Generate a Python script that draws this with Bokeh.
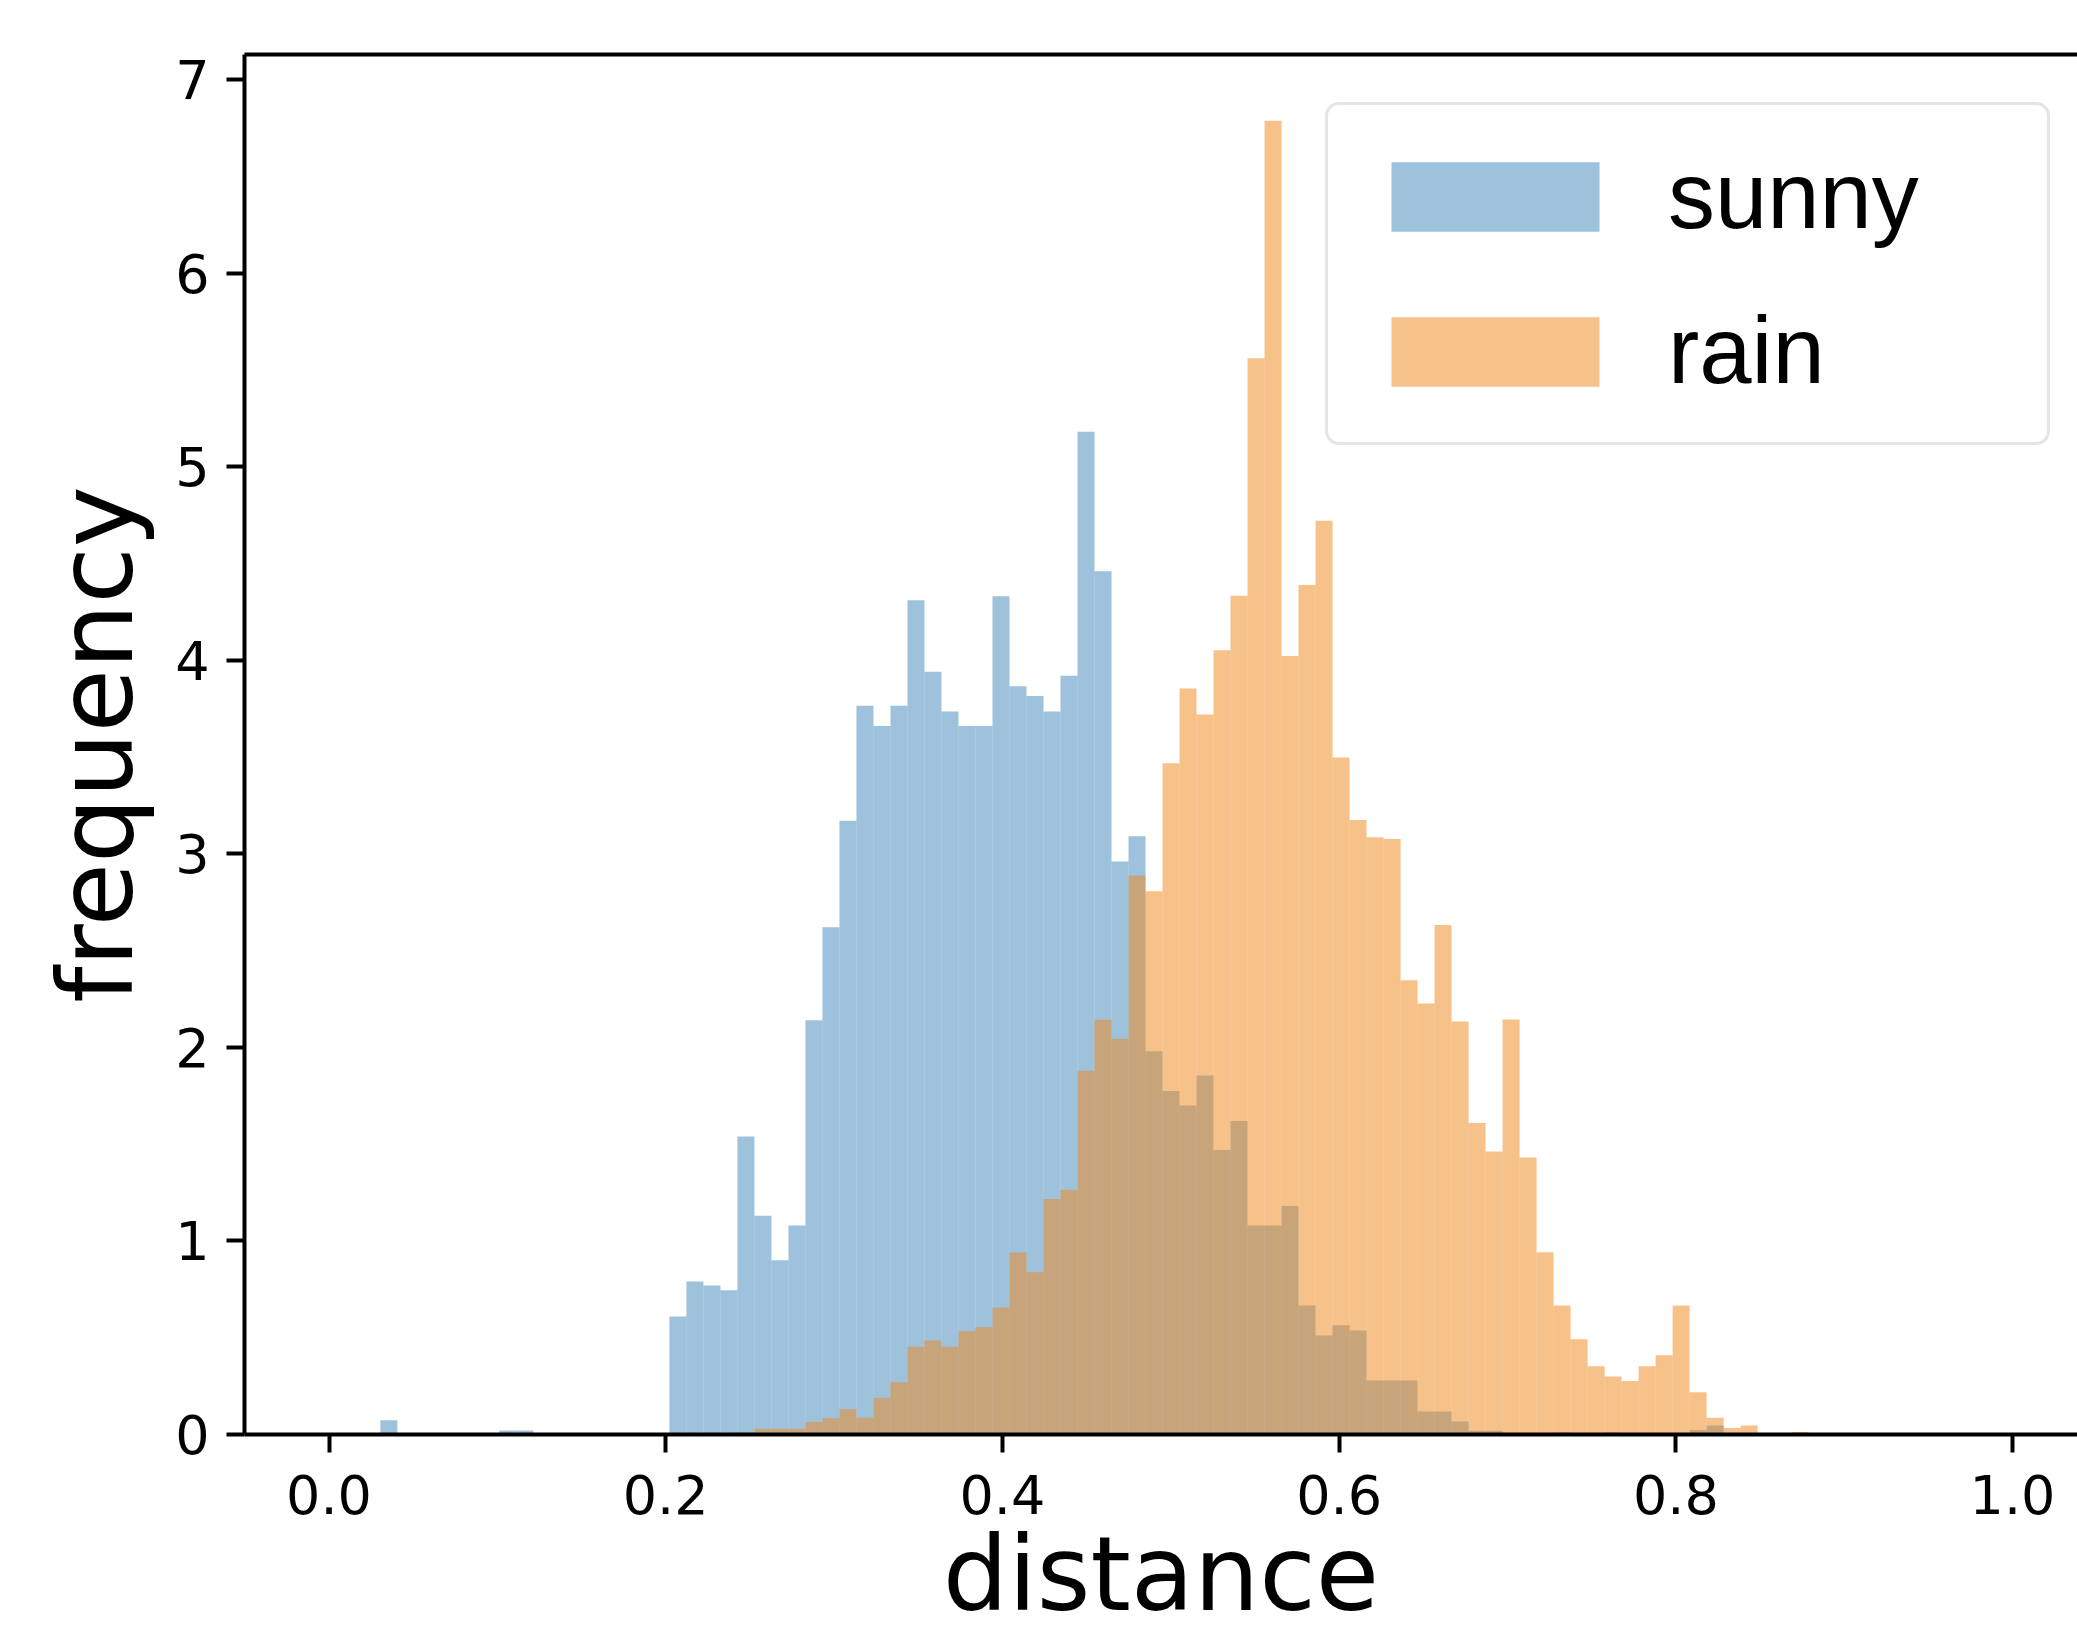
import numpy as np
from bokeh.plotting import figure
from bokeh.models import (Range1d, FixedTicker, PrintfTickFormatter, LinearAxis,
                          Legend, LegendItem, ColumnDataSource)
from bokeh.embed import file_html
from bokeh.resources import INLINE

# ---------------- data ----------------
BIN_START = 0.0305
BIN_WIDTH = 0.0101

sunny = [0.073, 0, 0, 0, 0, 0, 0, 0.021, 0.021, 0,
         0, 0, 0, 0, 0, 0, 0, 0.61, 0.79, 0.77,
         0.745, 1.54, 1.13, 0.90, 1.08, 2.14, 2.62, 3.17, 3.765, 3.66,
         3.765, 4.31, 3.94, 3.735, 3.66, 3.66, 4.33, 3.865, 3.815, 3.735,
         3.92, 5.18, 4.46, 2.96, 3.09, 1.98, 1.775, 1.70, 1.855, 1.47,
         1.62, 1.08, 1.08, 1.18, 0.667, 0.512, 0.564, 0.537, 0.279, 0.279,
         0.279, 0.119, 0.119, 0.067, 0.02, 0.02, 0, 0, 0, 0.01,
         0, 0, 0.01, 0, 0, 0, 0, 0.023, 0.047, 0,
         0, 0, 0, 0]

rain = [0, 0, 0, 0, 0, 0, 0, 0, 0, 0,
        0, 0, 0, 0, 0, 0, 0, 0, 0, 0,
        0, 0.01, 0.03, 0.03, 0.03, 0.065, 0.084, 0.13, 0.086, 0.19,
        0.27, 0.453, 0.485, 0.453, 0.534, 0.554, 0.656, 0.94, 0.838, 1.216,
        1.265, 1.879, 2.143, 2.045, 2.888, 2.806, 3.467, 3.854, 3.72, 4.052,
        4.333, 5.56, 6.787, 4.022, 4.388, 4.721, 3.497, 3.175, 3.086, 3.076,
        2.346, 2.226, 2.632, 2.134, 1.609, 1.462, 2.144, 1.431, 0.941, 0.667,
        0.492, 0.352, 0.300, 0.276, 0.352, 0.410, 0.667, 0.218, 0.087, 0.034,
        0.046, 0, 0, 0.013]

series_names = ["sunny", "rain"]
x_ticks = [0.0, 0.2, 0.4, 0.6, 0.8, 1.0]
y_ticks = [0, 1, 2, 3, 4, 5, 6, 7]
x_label = "distance"
y_label = "frequency"

SUNNY_COLOR = "#3f85b9"
RAIN_COLOR = "#ef8515"
ALPHA = 0.5

# ---------------- figure ----------------
n = len(sunny)
left = BIN_START + BIN_WIDTH * np.arange(n)
right = left + BIN_WIDTH

src_s = ColumnDataSource(dict(left=left, right=right, top=sunny, bottom=np.zeros(n)))
src_r = ColumnDataSource(dict(left=left, right=right, top=rain, bottom=np.zeros(n)))

W, H = 2077, 1637
p = figure(width=W, height=H,
           x_range=Range1d(-0.0502, 1.0386), y_range=Range1d(0, 7.129),
           output_backend="svg", toolbar_location=None,
           min_border_left=244, min_border_right=0,
           min_border_top=54, min_border_bottom=203)
p.outline_line_color = None
p.xgrid.visible = False
p.ygrid.visible = False
p.background_fill_color = "white"
p.border_fill_color = "white"

r1 = p.quad(left="left", right="right", top="top", bottom="bottom", source=src_s,
            fill_color=SUNNY_COLOR, fill_alpha=ALPHA, line_color=None)
r2 = p.quad(left="left", right="right", top="top", bottom="bottom", source=src_r,
            fill_color=RAIN_COLOR, fill_alpha=ALPHA, line_color=None)

TICK_FONT = "DejaVu Sans"
for ax in (p.xaxis[0], p.yaxis[0]):
    ax.axis_line_width = 4
    ax.axis_line_color = "black"
    ax.major_tick_line_width = 4
    ax.major_tick_line_color = "black"
    ax.major_tick_out = 18
    ax.major_tick_in = 0
    ax.minor_tick_line_color = None
    ax.major_label_text_font = TICK_FONT
    ax.major_label_text_font_size = "54px"
    ax.major_label_text_color = "black"
    ax.axis_label_text_font = TICK_FONT
    ax.axis_label_text_font_size = "103px"
    ax.axis_label_text_font_style = "normal"
    ax.axis_label_text_color = "black"

p.xaxis[0].ticker = FixedTicker(ticks=x_ticks)
p.xaxis[0].formatter = PrintfTickFormatter(format="%.1f")
p.xaxis[0].axis_label = x_label
p.xaxis[0].major_label_standoff = 22
p.xaxis[0].axis_label_standoff = -3

p.yaxis[0].ticker = FixedTicker(ticks=y_ticks)
p.yaxis[0].formatter = PrintfTickFormatter(format="%d")
p.yaxis[0].axis_label = y_label
p.yaxis[0].major_label_standoff = 17
p.yaxis[0].axis_label_standoff = 16

# top spine
top_axis = LinearAxis(ticker=FixedTicker(ticks=[]))
top_axis.axis_line_width = 4
top_axis.axis_line_color = "black"
top_axis.major_tick_line_color = None
top_axis.minor_tick_line_color = None
top_axis.major_label_text_font_size = "0px"
p.add_layout(top_axis, "above")

legend = Legend(items=[LegendItem(label=series_names[0], renderers=[r1]),
                       LegendItem(label=series_names[1], renderers=[r2])],
                location=(1081, 989))
legend.glyph_width = 260
legend.glyph_height = 87
legend.label_standoff = 43
legend.label_width = 342
legend.label_height = 87
legend.padding = 37
legend.spacing = 47
legend.label_text_font = "Liberation Sans"
legend.label_text_font_size = "94px"
legend.label_text_color = "black"
legend.border_line_color = "#cccccc"
legend.border_line_width = 3
legend.background_fill_color = "white"
legend.background_fill_alpha = 0.8
if "border_radius" in Legend.properties():
    legend.border_radius = 14
p.add_layout(legend)

open("out.html", "w").write(file_html(p, INLINE))
